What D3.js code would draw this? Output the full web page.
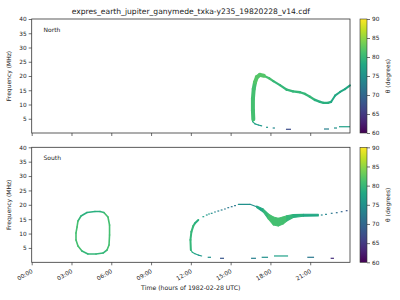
<!DOCTYPE html>
<html>
<head>
<meta charset="utf-8">
<script src="https://cdn.jsdelivr.net/npm/d3@7"></script>
<style>
  body { margin: 0; background: #fff; }
  svg text { font-family: "DejaVu Sans", sans-serif; fill: #222; }
</style>
</head>
<body>
<svg id="chart"></svg>
<script>
// data: [hour, MHz, theta]
var titleText = "expres_earth_jupiter_ganymede_txka-y235_19820228_v14.cdf";
var hourTicks = [0, 3, 6, 9, 12, 15, 18, 21];
var freqTicks = [5, 10, 15, 20, 25, 30, 35, 40];
var thetaTicks = [60, 65, 70, 75, 80, 85, 90];

// North hemisphere
var northRise = [[16.71, 4.8, 81], [16.68, 8, 81], [16.68, 12, 81], [16.74, 15.5, 81], [16.84, 17.8, 82], [16.98, 19.6, 82], [17.21, 20.4, 82], [17.5, 20.1, 81]];
var northDecay = [[17.5, 20.1, 81], [17.9, 19.2, 81], [18.22, 18.2, 80], [18.72, 16.8, 80], [19.23, 15.2, 80], [19.7, 14.6, 80], [20.23, 14.3, 80], [20.61, 13.7, 80], [20.98, 12.7, 80], [21.36, 11.6, 79], [21.74, 10.9, 79], [22.0, 10.6, 79], [22.34, 10.6, 79], [22.57, 10.9, 78]];
var northRecover = [[22.57, 10.9, 78], [22.87, 13.1, 78], [23.25, 14.4, 78], [23.62, 15.4, 78], [24, 16.7, 79]];
var northLow = [[16.71, 4.8, 79], [16.66, 4.0, 78], [16.84, 3.2, 77], [17.09, 2.8, 76], [17.34, 2.5, 76]];
// [start hour, end hour, MHz, theta]
var northDashes = [[17.67, 17.82, 2.0, 76], [18.17, 18.34, 1.75, 74], [19.17, 19.55, 1.3, 67], [22.04, 22.42, 1.4, 73], [22.79, 23.02, 1.75, 75], [23.17, 24, 2.2, 77]];

// South hemisphere
var southLoop = [[4.77, 17.67, 79], [4.17, 17.32, 79], [3.72, 16.1, 80], [3.49, 14.37, 81], [3.42, 12.28, 81], [3.34, 10.2, 81], [3.34, 7.77, 81], [3.49, 5.67, 81], [3.79, 3.93, 80], [4.24, 2.89, 80], [4.85, 2.89, 80], [5.38, 3.23, 80], [5.68, 4.28, 81], [5.83, 6.02, 81], [5.87, 9.5, 81], [5.87, 12.97, 81], [5.75, 15.76, 81], [5.44, 17.32, 80], [5.15, 17.67, 79], [4.77, 17.67, 79]];
var southArc = [[12.0, 4.3, 80], [11.97, 7.8, 80], [12.04, 10.6, 80], [12.18, 12.6, 80], [12.31, 13.6, 79], [12.56, 14.7, 78]];
var southDots = [[12.94, 15.86, 77], [13.2, 16.45, 76], [13.37, 16.8, 76], [13.57, 17.04, 75], [13.82, 17.5, 74], [14.07, 17.84, 73], [14.32, 18.19, 73], [14.57, 18.54, 72], [14.82, 19.0, 72], [15.08, 19.34, 72], [15.33, 19.69, 72]];
var southTop = [[15.58, 20.17, 75], [16.46, 20.17, 75], [16.96, 19.3, 77]];
// [hour, low MHz, high MHz, theta]
var southDip = [[16.96, 19.06, 19.58, 78], [17.46, 17.5, 18.5, 80], [17.84, 15.06, 16.8, 81], [18.22, 12.97, 15.76, 81], [18.59, 12.63, 15.3, 81], [18.95, 13.32, 15.76, 81], [19.23, 14.37, 16.2, 80], [19.72, 15.58, 16.63, 79], [20.48, 16.0, 16.7, 78], [21.61, 16.1, 16.7, 77]];
var southTail = [[21.87, 16.45, 74], [22.19, 16.7, 74], [22.62, 17.04, 72], [23.0, 17.25, 71], [23.37, 17.6, 70], [23.75, 17.95, 68]];
var southLow = [[12.0, 4.3, 79], [12.11, 3.5, 78], [12.31, 3.0, 77], [12.56, 2.5, 76], [12.82, 2.2, 76]];
var southDashes = [[13.27, 13.52, 1.74, 75], [14.2, 14.5, 1.39, 68], [16.54, 16.91, 1.39, 73], [17.34, 17.82, 1.74, 75], [18.27, 19.33, 2.2, 77], [20.78, 21.29, 1.74, 72], [22.54, 22.79, 1.39, 64]];

var width = 400, height = 300;
var svg = d3.select("#chart").attr("width", width).attr("height", height);

var x = d3.scaleLinear().domain([0, 24]).range([31.7, 350]);
var color = d3.scaleSequential(d3.interpolateViridis).domain([60, 90]);
var panels = [
  { name: "North", top: 19, bottom: 133 },
  { name: "South", top: 147.3, bottom: 262.3 }
];
panels.forEach(function (p) {
  p.y = d3.scaleLinear().domain([0, 40]).range([p.bottom, p.top]);
});

svg.append("text")
  .attr("x", 190.8).attr("y", 13.5)
  .attr("text-anchor", "middle")
  .style("font-size", "7.6px")
  .text(titleText);

function hhmm(h) {
  return (h < 10 ? "0" : "") + h + ":00";
}

// polyline drawn piece by piece so each piece gets its own colour
function drawTrack(g, y, pts, w) {
  for (var i = 0; i < pts.length - 1; i++) {
    g.append("line")
      .attr("x1", x(pts[i][0])).attr("y1", y(pts[i][1]))
      .attr("x2", x(pts[i + 1][0])).attr("y2", y(pts[i + 1][1]))
      .attr("stroke", color(pts[i][2]))
      .attr("stroke-width", w)
      .attr("stroke-linecap", "round");
  }
}

function drawDashes(g, y, dashes) {
  g.selectAll(null).data(dashes).enter().append("line")
    .attr("x1", d => x(d[0])).attr("x2", d => x(d[1]))
    .attr("y1", d => y(d[2])).attr("y2", d => y(d[2]))
    .attr("stroke", d => color(d[3]))
    .attr("stroke-width", 1.2);
}

function drawDots(g, y, pts) {
  g.selectAll(null).data(pts).enter().append("line")
    .attr("x1", d => x(d[0]) - 0.9).attr("x2", d => x(d[0]) + 0.9)
    .attr("y1", d => y(d[1])).attr("y2", d => y(d[1]))
    .attr("stroke", d => color(d[2]))
    .attr("stroke-width", 1.2);
}

function drawBand(g, y, pts) {
  var area = d3.area()
    .x(d => x(d[0]))
    .y0(d => y(d[1]))
    .y1(d => y(d[2]));
  for (var i = 0; i < pts.length - 1; i++) {
    g.append("path")
      .attr("d", area([pts[i], pts[i + 1]]))
      .attr("fill", color(pts[i][3]))
      .attr("stroke", color(pts[i][3]))
      .attr("stroke-width", 1.1)
      .attr("stroke-linejoin", "round");
  }
}

panels.forEach(function (p, idx) {
  var g = svg.append("g");
  var y = p.y;

  var marks = g.append("g");
  if (idx === 0) {
    drawTrack(marks, y, northLow, 1.2);
    drawDashes(marks, y, northDashes);
    drawTrack(marks, y, northDecay, 2.3);
    drawTrack(marks, y, northRecover, 2.0);
    drawTrack(marks, y, northRise, 4.0);
  } else {
    drawTrack(marks, y, southLoop, 1.6);
    drawTrack(marks, y, southLow, 1.1);
    drawDashes(marks, y, southDashes);
    drawTrack(marks, y, southArc, 2.0);
    drawDots(marks, y, southDots);
    drawTrack(marks, y, southTop, 1.2);
    drawBand(marks, y, southDip);
    drawDots(marks, y, southTail);
  }

  var yAxis = d3.axisLeft(y).tickValues(freqTicks).tickSize(3).tickPadding(2);
  var ga = g.append("g").attr("transform", "translate(" + x(0) + ",0)").call(yAxis);
  ga.select(".domain").remove();
  ga.selectAll("text").style("font-size", "5.8px").style("fill", "#222");
  ga.selectAll("line").attr("stroke", "#333").attr("stroke-width", 0.7);

  var xAxis = d3.axisBottom(x).tickValues(hourTicks).tickSize(3)
    .tickFormat(idx === 0 ? "" : hhmm);
  var gx = g.append("g").attr("transform", "translate(0," + p.bottom + ")").call(xAxis);
  gx.select(".domain").remove();
  gx.selectAll("line").attr("stroke", "#333").attr("stroke-width", 0.7);
  if (idx === 1) {
    gx.selectAll("text")
      .style("font-size", "5.8px").style("fill", "#222")
      .attr("text-anchor", "end")
      .attr("y", 0).attr("dy", 0)
      .attr("transform", "translate(1,10) rotate(-30)");
  }

  g.append("rect")
    .attr("x", x(0)).attr("y", p.top)
    .attr("width", x(24) - x(0)).attr("height", p.bottom - p.top)
    .attr("fill", "none").attr("stroke", "#333").attr("stroke-width", 0.8);

  g.append("text")
    .attr("x", 43.5).attr("y", p.top + 12.5)
    .style("font-size", "6px")
    .text(p.name);

  g.append("text")
    .attr("transform", "translate(11," + ((p.top + p.bottom) / 2) + ") rotate(-90)")
    .attr("text-anchor", "middle")
    .style("font-size", "6px")
    .text("Frequency (MHz)");

  // colour bar
  var cb = d3.scaleLinear().domain([60, 90]).range([p.bottom, p.top]);
  var gradId = "grad" + idx;
  var grad = svg.append("defs").append("linearGradient")
    .attr("id", gradId).attr("x1", 0).attr("y1", 1).attr("x2", 0).attr("y2", 0);
  d3.range(0, 1.0001, 0.1).forEach(function (t) {
    grad.append("stop").attr("offset", t).attr("stop-color", d3.interpolateViridis(t));
  });
  g.append("rect")
    .attr("x", 360).attr("y", p.top)
    .attr("width", 7).attr("height", p.bottom - p.top)
    .attr("fill", "url(#" + gradId + ")")
    .attr("stroke", "#333").attr("stroke-width", 0.6);
  var cbAxis = d3.axisRight(cb).tickValues(thetaTicks).tickSize(3).tickPadding(2);
  var gc = g.append("g").attr("transform", "translate(367,0)").call(cbAxis);
  gc.select(".domain").remove();
  gc.selectAll("text").style("font-size", "5.8px").style("fill", "#222");
  gc.selectAll("line").attr("stroke", "#333").attr("stroke-width", 0.7);

  g.append("text")
    .attr("transform", "translate(390," + ((p.top + p.bottom) / 2) + ") rotate(-90)")
    .attr("text-anchor", "middle")
    .style("font-size", "6px")
    .text("\u03b8 (degrees)");
});

svg.append("text")
  .attr("x", 190.8).attr("y", 290)
  .attr("text-anchor", "middle")
  .style("font-size", "6.2px")
  .text("Time (hours of 1982-02-28 UTC)");
</script>
</body>
</html>
